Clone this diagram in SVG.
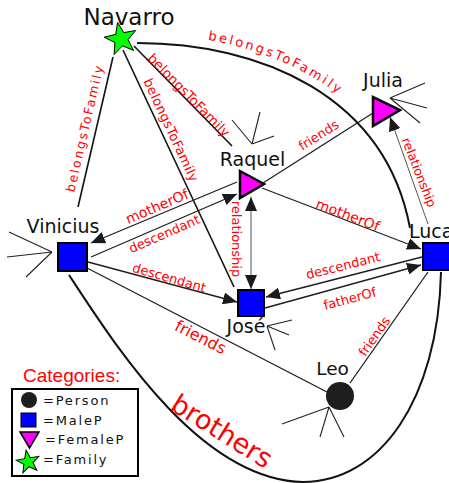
<svg xmlns="http://www.w3.org/2000/svg" width="449" height="483" viewBox="0 0 449 483">
<style>
.lbl{font-family:"DejaVu Sans",sans-serif;fill:#ff0000;text-anchor:middle}
.name{font-family:"DejaVu Sans",sans-serif;fill:#111;text-anchor:middle}
.e{stroke:#1e1e1e;stroke-width:1.3;fill:none}
.thin{stroke:#555;stroke-width:1;fill:none}
.nav{stroke:#111;stroke-width:1.6;fill:none}
.curve{stroke:#111;stroke-width:2;fill:none}
.wh{stroke:#222;stroke-width:1.1;fill:none}
.leg{font-family:"DejaVu Sans",sans-serif;fill:#111;font-size:13px;letter-spacing:1.8px}
</style>
<defs>
<marker id="ah" viewBox="0 0 14 12" refX="14" refY="6" markerWidth="14" markerHeight="12" markerUnits="userSpaceOnUse" orient="auto-start-reverse"><path d="M0,0 L14,6 L0,12 z" fill="#1a1a1a"/></marker>
<path id="tp" d="M137,34 C262,33 393,90 419,226"/>
</defs>
<g id="connectors">
<path class="nav" d="M113,57 L78,207"/>
<path class="nav" d="M123,50 L234,287"/>
<path class="nav" d="M134,46 L232,146"/>
<path class="curve" d="M137,43 C260,43 385,95 410,228"/>
<path class="curve" d="M69,275 C115,345 200,480 303,482 C380,482 438,400 441,272"/>
<path class="e" d="M237,182 L91,243" marker-end="url(#ah)"/>
<path class="e" d="M91,257 L237,194" marker-end="url(#ah)"/>
<path class="thin" d="M251,197 L251,289" marker-start="url(#ah)" marker-end="url(#ah)"/>
<path class="e" d="M88,262 L237,302" marker-end="url(#ah)"/>
<path class="e" d="M87,268 L327,392"/>
<path class="e" d="M262,188 L421,249" marker-end="url(#ah)"/>
<path class="e" d="M422,257 L266,297" marker-end="url(#ah)"/>
<path class="e" d="M265,308 L421,265" marker-end="url(#ah)"/>
<path class="e" d="M263,183 L373,113"/>
<path class="thin" d="M428,224 L390,117" marker-end="url(#ah)"/>
<path class="e" d="M428,272 L350,383"/>
<path class="wh" d="M252,144 L260,112 M252,144 L232,120 M252,144 L274,136"/>
<path class="wh" d="M390,98 L425,83 M390,98 L427,108 M390,98 L420,123"/>
<path class="wh" d="M52,252 L9,232 M52,252 L7,257 M52,252 L26,277"/>
<path class="wh" d="M267,326 L292,320 M267,326 L289,335 M267,326 L275,350"/>
<path class="wh" d="M329,407 L282,424 M329,407 L320,437 M329,407 L344,437"/>
<text class="lbl" font-size="12.5" letter-spacing="1.9" transform="translate(89,129) rotate(-77)">belongsToFamily</text>
<text class="lbl" font-size="13" letter-spacing="0.4" transform="translate(167,132) rotate(65)">belongsToFamily</text>
<text class="lbl" font-size="13.5" transform="translate(185.5,98.5) rotate(45.6)">belongsToFamily</text>
<text class="lbl" font-size="13" letter-spacing="2.5" style="text-anchor:start"><textPath href="#tp" startOffset="71">belongsToFamily</textPath></text>
<text class="lbl" font-size="14" transform="translate(159,211) rotate(-23.4)">motherOf</text>
<text class="lbl" font-size="13" transform="translate(166,238) rotate(-23.6)">descendant</text>
<text class="lbl" font-size="13" transform="translate(168,282) rotate(16.2)">descendant</text>
<text class="lbl" font-size="16" transform="translate(198,342) rotate(26.7)">friends</text>
<text class="lbl" font-size="13" transform="translate(232,239) rotate(90)">relationship</text>
<text class="lbl" font-size="14" transform="translate(346,219.5) rotate(20.8)">motherOf</text>
<text class="lbl" font-size="13" transform="translate(344,270) rotate(-14.2)">descendant</text>
<text class="lbl" font-size="13" transform="translate(351,303) rotate(-15)">fatherOf</text>
<text class="lbl" font-size="13" transform="translate(321,139) rotate(-32.6)">friends</text>
<text class="lbl" font-size="12.5" transform="translate(415,174) rotate(68.5)">relationship</text>
<text class="lbl" font-size="13" transform="translate(378,339) rotate(-55)">friends</text>
<text class="lbl" font-size="27" transform="translate(217,439) rotate(32)">brothers</text>
</g>
<g id="navarro">
<polygon points="117.5,22.4 123.8,32.6 135.7,30.5 128,39.7 133.6,50.4 122.5,45.8 114.1,54.5 114.9,42.5 104.1,37.2 115.8,34.3" fill="#00ff00" stroke="#000" stroke-width="1"/>
<text class="name" x="129" y="25" font-size="23">Navarro</text>
</g>
<g id="julia">
<polygon points="373,97 373,126 400,110" fill="#ff00ff" stroke="#000" stroke-width="2.5"/>
<text class="name" x="383" y="87" font-size="19">Julia</text>
</g>
<g id="raquel">
<polygon points="240,171 240,198 264,184" fill="#ff00ff" stroke="#000" stroke-width="2.5"/>
<text class="name" x="252.5" y="166" font-size="19">Raquel</text>
</g>
<g id="vinicius">
<rect x="58" y="243" width="29" height="28" fill="#0000ff" stroke="#000" stroke-width="2"/>
<text class="name" x="63" y="233" font-size="19">Vinicius</text>
</g>
<g id="jose">
<rect x="238" y="290" width="26" height="26" fill="#0000ff" stroke="#000" stroke-width="2"/>
<text class="name" x="246" y="333" font-size="19">José</text>
</g>
<g id="luca">
<rect x="423" y="243" width="28" height="27" fill="#0000ff" stroke="#000" stroke-width="2"/>
<text class="name" x="409" y="238" font-size="19" style="text-anchor:start">Luca</text>
</g>
<g id="leo">
<circle cx="340" cy="396" r="14" fill="#1e1e1e"/>
<text class="name" x="332.5" y="375" font-size="18.5">Leo</text>
</g>
<g id="legend">
<text x="23" y="382" font-family="Liberation Sans, sans-serif" font-size="19" fill="#ff0000">Categories:</text>
<rect x="12" y="389" width="126" height="87" fill="none" stroke="#000" stroke-width="2"/>
<circle cx="29" cy="400" r="8" fill="#1e1e1e"/>
<text class="leg" x="43" y="404.5">=Person</text>
<rect x="21" y="413" width="15" height="14" fill="#0000ff" stroke="#000" stroke-width="1"/>
<text class="leg" x="43" y="424.5">=MaleP</text>
<polygon points="20,432 39,432 29.5,448" fill="#ff00ff" stroke="#000" stroke-width="1.5"/>
<text class="leg" x="45" y="443.5">=FemaleP</text>
<polygon points="28,450 30.8,458.1 39.4,458.3 32.6,463.5 35.1,471.7 28,466.8 20.9,471.7 23.4,463.5 16.6,458.3 25.2,458.1" fill="#00ff00" stroke="#000" stroke-width="1" transform="rotate(-10 28 461)"/>
<text class="leg" x="43" y="464">=Family</text>
</g>
</svg>
